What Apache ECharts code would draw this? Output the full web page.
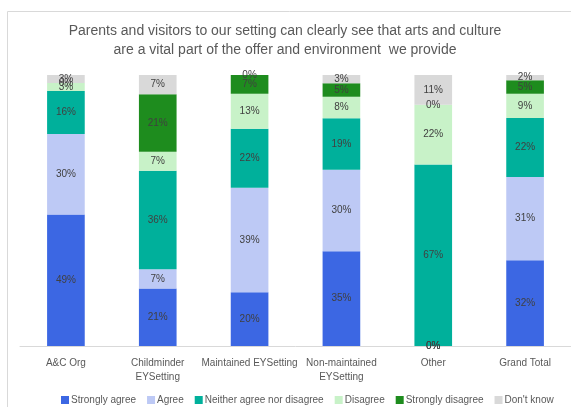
<!DOCTYPE html>
<html><head><meta charset="utf-8">
<script src="https://cdn.jsdelivr.net/npm/echarts@6/dist/echarts.min.js"></script>
<style>html,body{margin:0;padding:0;background:#fff}#c{width:571px;height:407px}</style>
</head><body><div id="c"></div>
<script>
const categories = ['A&C Org', 'Childminder\nEYSetting', 'Maintained EYSetting', 'Non-maintained\nEYSetting', 'Other', 'Grand Total'];
const stronglyAgree = [49, 21, 20, 35, 0, 32];
const agree = [30, 7, 39, 30, 0, 31];
const neither = [16, 36, 22, 19, 67, 22];
const disagree = [3, 7, 13, 8, 22, 9];
const stronglyDisagree = [0, 21, 7, 5, 0, 5];
const dontKnow = [3, 7, 0, 3, 11, 2];
const seriesNames = ['Strongly agree', 'Agree', 'Neither agree nor disagree', 'Disagree', 'Strongly disagree', "Don't know"];
const colors = ['#3C67E3', '#BDC9F5', '#00B09B', '#C8F2C8', '#1E8C1E', '#D9D9D9'];
const allSeries = [stronglyAgree, agree, neither, disagree, stronglyDisagree, dontKnow];

const totals = categories.map((_, i) => allSeries.reduce((s, a) => s + a[i], 0));
const FONT = 'Liberation Sans';
const chart = echarts.init(document.getElementById('c'), null, {renderer: 'canvas'});
chart.setOption({
  animation: false,
  textStyle: {fontFamily: FONT},
  title: {
    text: 'Parents and visitors to our setting can clearly see that arts and culture\nare a vital part of the offer and environment  we provide',
    left: 280, top: 17, textAlign: 'center',
    textStyle: {fontFamily: FONT, fontSize: 14, fontWeight: 'normal', color: '#595959', lineHeight: 19}
  },
  graphic: [{type: 'rect', shape: {x: 7.5, y: 11.5, width: 800, height: 600}, style: {fill: 'none', stroke: '#D9D9D9', lineWidth: 1}, silent: true, z: -1}],
  legend: {
    left: 56, top: 390, itemWidth: 8, itemHeight: 8, itemGap: 11,
    icon: 'rect',
    textStyle: {fontFamily: FONT, fontSize: 10, color: '#595959', padding: [0, 0, 0, -3]},
    data: seriesNames
  },
  grid: {left: 20, right: -21, top: 75, bottom: 61, containLabel: false},
  xAxis: {
    type: 'category', data: categories,
    axisLine: {lineStyle: {color: '#D9D9D9'}}, axisTick: {show: false},
    axisLabel: {fontFamily: FONT, fontSize: 10, color: '#595959', interval: 0, margin: 10, lineHeight: 14}
  },
  yAxis: {type: 'value', min: 0, max: 100, show: false, splitLine: {show: false}},
  series: allSeries.map((arr, k) => ({
    name: seriesNames[k], type: 'bar', stack: 'total', barWidth: '41%',
    itemStyle: {color: colors[k]},
    data: arr.map((v, i) => ({value: v / totals[i] * 100, raw: v})),
    label: {
      show: true, position: 'inside', fontFamily: FONT, fontSize: 10, color: '#404040',
      formatter: p => p.data.raw + '%'
    }
  }))
});
</script></body></html>
